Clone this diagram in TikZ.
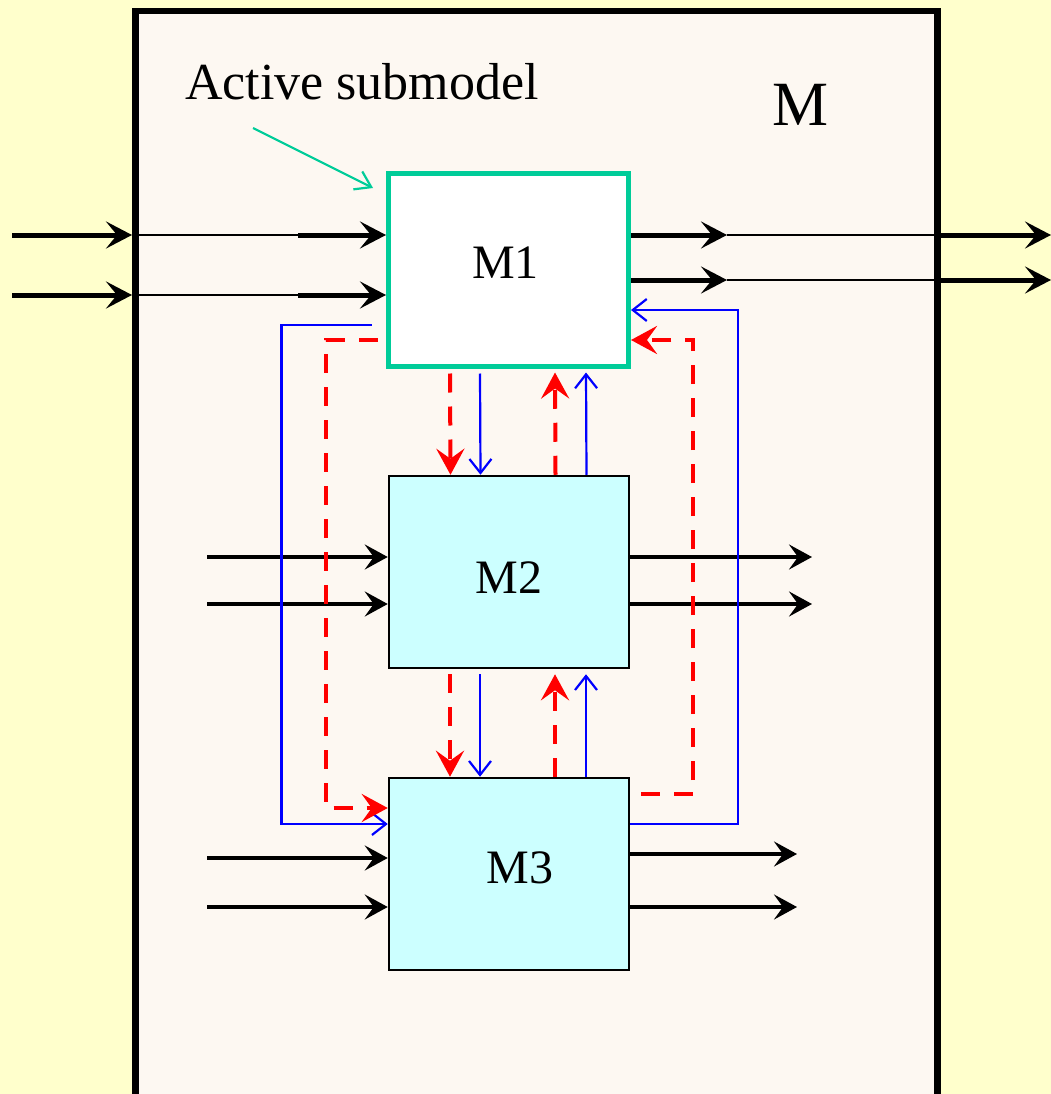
\documentclass[tikz,border=0pt]{standalone}
\usepackage{fontspec}
\setmainfont{Liberation Serif}
\usetikzlibrary{arrows.meta}
\definecolor{bgyellow}{HTML}{FFFFCC}
\definecolor{panel}{HTML}{FDF8F2}
\definecolor{tealc}{HTML}{00CC99}
\definecolor{cyanfill}{HTML}{CCFFFF}
\begin{document}
\begin{tikzpicture}[x=1pt,y=-1pt,
  sub/.style={draw=black, line width=2.5pt, fill=cyanfill, minimum width=240pt, minimum height=192pt, inner sep=0pt, font=\fontsize{48}{52}\selectfont},
  bigarrow/.style={line width=5pt, -{Stealth[length=26pt,width=27pt,inset=11pt]}},
  midarrow/.style={line width=3.5pt, -{Stealth[length=23pt,width=25pt,inset=9pt]}},
  thinline/.style={line width=2pt},
  blu/.style={blue, line width=2.2pt, -{Straight Barb[length=14pt,width=22pt]}},
  reddash/.style={red, line width=4pt, dash pattern=on 19pt off 14pt, -{Stealth[length=26pt,width=28pt,inset=10pt]}},
  ]
\useasboundingbox (0,0) rectangle (1051,1094);
\fill[bgyellow] (0,0) rectangle (1051,1094);
\clip (0,0) rectangle (1051,1094);

\node[draw, line width=6.5pt, fill=panel, minimum width=802pt, minimum height=1100pt, anchor=north west, inner sep=0pt] (Mbox) at (132,8) {};
\node[font=\fontsize{63}{70}\selectfont] (Mlabel) at (800,105) {M};
\node[font=\fontsize{52}{60}\selectfont] (act) at (362,82) {Active submodel};

\node[sub, draw=tealc, line width=5pt, fill=white] (M1) at (508.5,270) {\raisebox{7pt}[\height][\depth]{M1}\hspace*{6pt}};
\node[sub] (M2) at (509,572) {\raisebox{-6pt}[\height][\depth]{M2}};
\node[sub] (M3) at (509,874) {\hspace*{22pt}\raisebox{6pt}[\height][\depth]{M3}};

% active submodel pointer
\coordinate (actstart) at (253,128);
\coordinate (acttip) at (373,188);
\draw[tealc, line width=2.2pt, -{Straight Barb[length=15pt,width=20pt]}] (actstart) -- (acttip);

% inputs of M1
\foreach \y/\n in {235/a,295/b}{
  \coordinate (src\n) at (12,\y);
  \coordinate (mid\n) at (298,\y);
  \draw[bigarrow] (src\n) -- (src\n -| Mbox.west);
  \draw[thinline] (src\n -| Mbox.west) -- (mid\n);
  \draw[bigarrow] (mid\n) -- (mid\n -| M1.west);
}
% outputs of M1
\foreach \y/\n in {235/a,280/b}{
  \coordinate (om\n) at (727,\y);
  \coordinate (oe\n) at (1051,\y);
  \draw[bigarrow] (om\n -| M1.east) -- (om\n);
  \draw[thinline] (om\n) -- (om\n -| Mbox.east);
  \draw[bigarrow] (om\n -| Mbox.east) -- (oe\n);
}
% M2 inputs/outputs
\foreach \y/\n in {557/a,604/b}{
  \coordinate (i2\n) at (207,\y);
  \coordinate (o2\n) at (812,\y);
  \draw[midarrow] (i2\n) -- (i2\n -| M2.west);
  \draw[midarrow] (o2\n -| M2.east) -- (o2\n);
}
% M3 inputs/outputs
\foreach \y/\n in {858/a,907/b}{
  \coordinate (i3\n) at (207,\y);
  \draw[midarrow] (i3\n) -- (i3\n -| M3.west);
}
\foreach \y/\n in {854/a,907/b}{
  \coordinate (o3\n) at (797,\y);
  \draw[midarrow] (o3\n -| M3.east) -- (o3\n);
}

% vertical links M1 <-> M2
\draw[reddash] ([xshift=-58.5pt,yshift=-5pt]M1.south) -- ([xshift=-58.5pt]M2.north);
\draw[blu] ([xshift=-28.5pt,yshift=-5pt]M1.south) -- ([xshift=-28.5pt]M2.north);
\draw[reddash] ([xshift=46.5pt]M2.north) -- ([xshift=46.5pt,yshift=-4pt]M1.south);
\draw[blu] ([xshift=77.5pt]M2.north) -- ([xshift=77.5pt,yshift=-4pt]M1.south);
% vertical links M2 <-> M3
\draw[reddash] ([xshift=-59pt,yshift=-5pt]M2.south) -- ([xshift=-59pt]M3.north);
\draw[blu] ([xshift=-29pt,yshift=-5pt]M2.south) -- ([xshift=-29pt]M3.north);
\draw[reddash] ([xshift=46pt]M3.north) -- ([xshift=46pt,yshift=-5pt]M2.south);
\draw[blu] ([xshift=77pt]M3.north) -- ([xshift=77pt,yshift=-5pt]M2.south);

% loops M1 -> M3 (left)
\draw[blu] ([xshift=-14.5pt,yshift=-55pt]M1.west) -- ++(-90,0) |- ([yshift=50pt]M3.west);
\draw[reddash] ([xshift=-8.5pt,yshift=-70pt]M1.west) -- ++(-52,0) |- ([yshift=66pt]M3.west);
% loops M3 -> M1 (right)
\draw[blu] ([yshift=50pt]M3.east) -- ++(108,0) |- ([yshift=-40pt]M1.east);
\draw[reddash] ([xshift=11pt,yshift=80pt]M3.east) -- ++(52,0) |- ([yshift=-70pt]M1.east);
\end{tikzpicture}
\end{document}
